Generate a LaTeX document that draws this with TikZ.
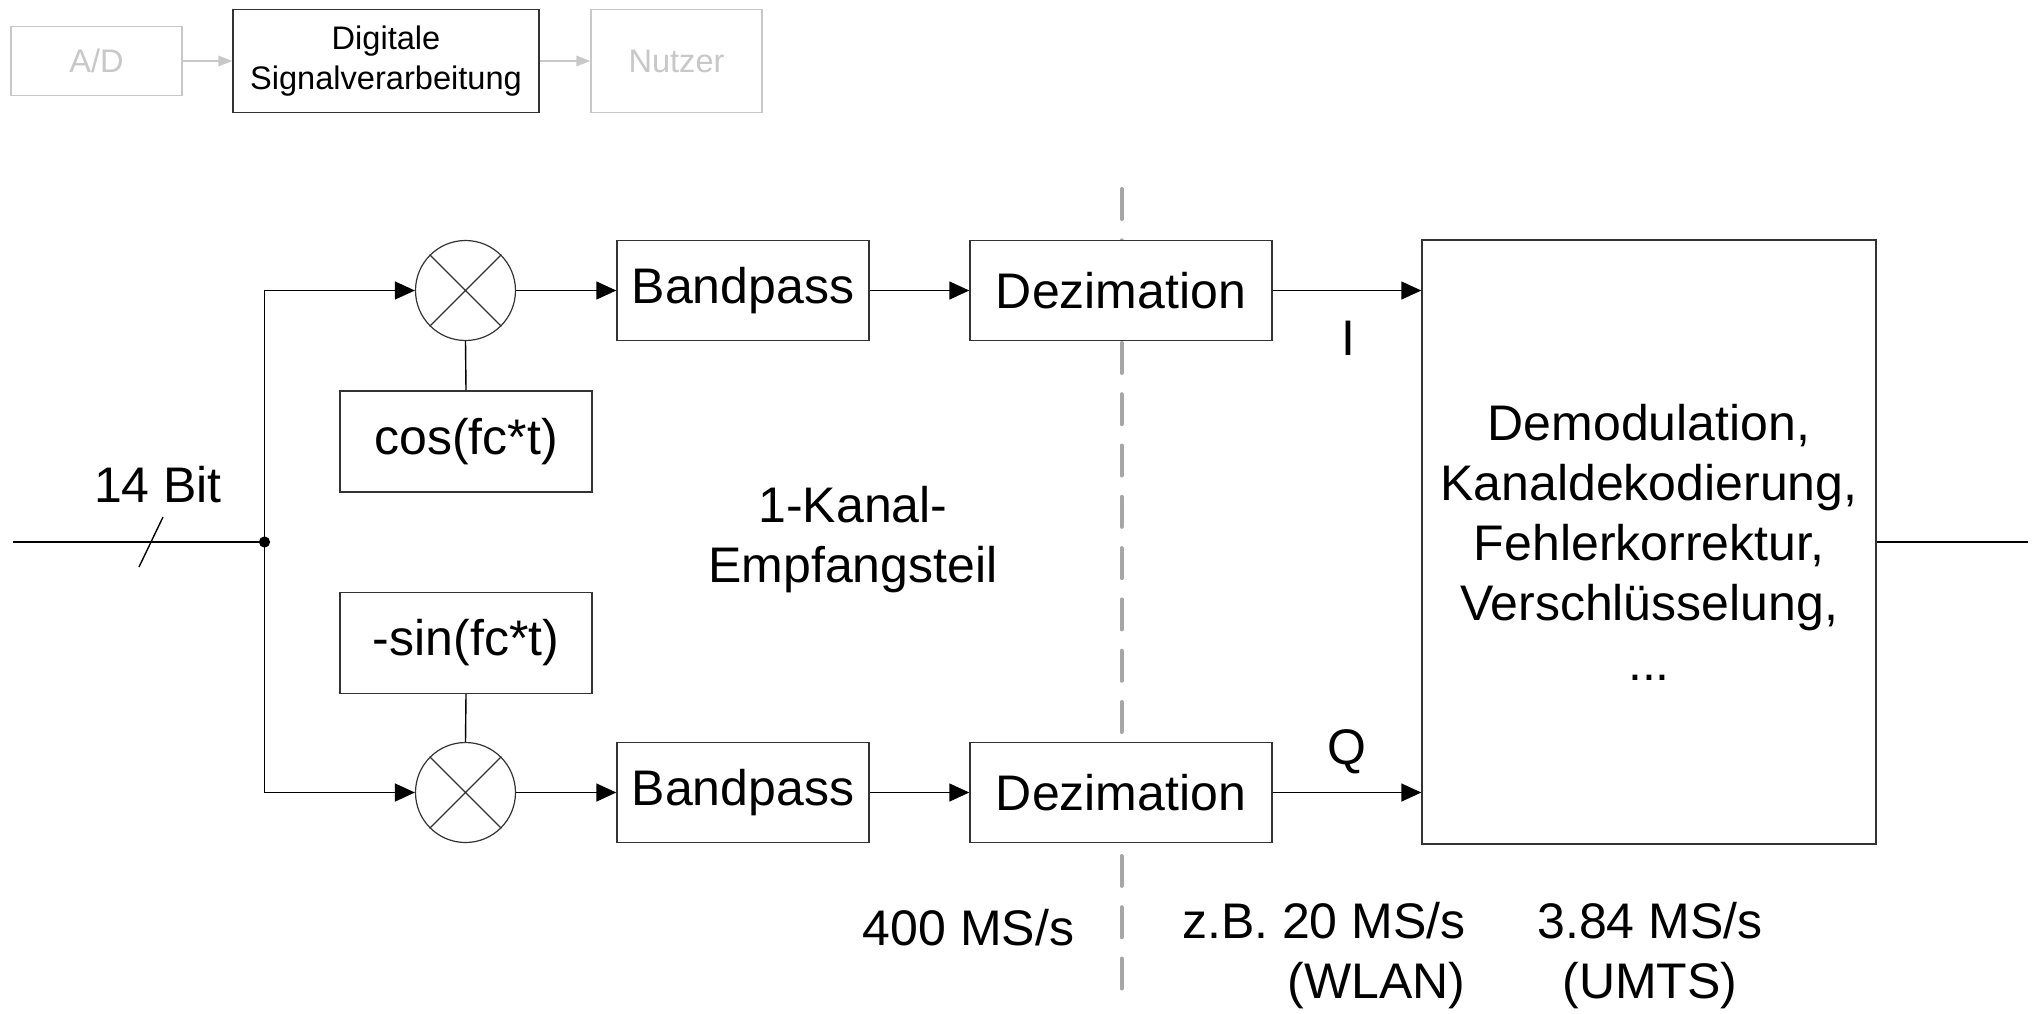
\documentclass[tikz,border=0pt]{standalone}
\usepackage{fontspec}
\setmainfont{Liberation Sans}
\usepackage{tikz}
\usepackage{xcolor}
\usetikzlibrary{calc,arrows.meta}
\definecolor{framecolorc}{HTML}{333333}
\definecolor{fadecolorc}{HTML}{C8C8C8}
\definecolor{splitcolorc}{HTML}{A6A6A6}
\colorlet{framecolor}{framecolorc}
\colorlet{fadecolor}{fadecolorc}
\colorlet{splitcolor}{splitcolorc}
\tikzstyle{blockbox} =[
    draw=framecolor,
    fill=white,
    line width=0.7pt,
    rectangle,
    inner sep=0pt,
    align=center,
    font=\fontsize{25}{30}\selectfont
    ]
\tikzstyle{fadebox} =[
    draw=fadecolor,
    fill=white,
    line width=0.7pt,
    rectangle,
    inner sep=0pt,
    align=center,
    text=fadecolor,
    font=\fontsize{16.3}{20}\selectfont
    ]
\tikzstyle{topbox} =[fadebox, draw=framecolor, text=black]
\tikzstyle{mixer} =[
    draw=framecolor,
    fill=white,
    line width=0.6pt,
    circle,
    minimum size=50pt,
    inner sep=0pt
    ]
\tikzstyle{wire} =[line width=0.7pt]
\tikzstyle{signal} =[wire, -{Triangle[length=10pt,width=9pt]}]
\tikzstyle{fadesignal} =[line width=0.7pt, fadecolor, -{Triangle[length=7pt,width=5.3pt]}]
\tikzstyle{plaintext} =[inner sep=0pt, align=center, font=\fontsize{25}{30}\selectfont]

\begin{document}
\begin{tikzpicture}[x=0.5pt,y=-0.5pt]
\useasboundingbox (0,0) rectangle (2033,1013);

\node[fadebox, minimum width=85.5pt, minimum height=34.5pt] (ad) at (96.5,61) {A/D};
\node[topbox, minimum width=153pt, minimum height=51.5pt] (dsp) at (386,61) {Digitale\\Signalverarbeitung};
\node[fadebox, minimum width=85.5pt, minimum height=51.5pt] (nutzer) at (676.5,61) {Nutzer};
\draw[fadesignal] (ad) -- (dsp);
\draw[fadesignal] (dsp) -- (nutzer);

\coordinate (splittop) at (1121.5,189);
\coordinate (splitbot) at (1121.5,990);
\draw[splitcolor, line width=2pt, line cap=round, dash pattern=on 15pt off 10.65pt] (splittop) -- (splitbot);

\coordinate (in) at (13,542);
\coordinate (split) at (264.5,542);
\coordinate (bus) at (151,542);
\coordinate (out) at (2028,542);

\node[mixer] (mixI) at (465.5,290.5) {};
\node[mixer] (mixQ) at (465.5,792.5) {};
\node[blockbox, minimum width=126pt, minimum height=50.5pt] (cosbox) at (466,441.5) {cos(fc*t)};
\node[blockbox, minimum width=126pt, minimum height=50.5pt] (sinbox) at (466,643) {-sin(fc*t)};
\node[blockbox, minimum width=126pt, minimum height=50pt] (bpI) at (743,290.5) {Bandpass};
\node[blockbox, minimum width=126pt, minimum height=50pt] (bpQ) at (743,792.5) {Bandpass};
\node[blockbox, minimum width=151pt, minimum height=50pt] (dezI) at (1121,290.5) {Dezimation};
\node[blockbox, minimum width=151pt, minimum height=50pt] (dezQ) at (1121,792.5) {Dezimation};
\node[blockbox, minimum width=227pt, minimum height=302pt] (demod) at (1649,542) {Demodulation,\\Kanaldekodierung,\\Fehlerkorrektur,\\Verschlüsselung,\\...};

\foreach \m in {mixI,mixQ}
    \draw[line width=0.6pt, framecolor] (\m.45) -- (\m.225) (\m.135) -- (\m.315);

\draw[wire] (in) -- (split);
\draw[wire] (bus) ++(-12,25) -- ++(24,-50);
\draw[signal] (split) |- (mixI.west);
\draw[signal] (split) |- (mixQ.west);
\fill (split) circle (2.8pt);
\draw[wire] (mixI.south) -- (cosbox.north);
\draw[wire] (sinbox.south) -- (mixQ.north);
\draw[signal] (mixI) -- (bpI);
\draw[signal] (mixQ) -- (bpQ);
\draw[signal] (bpI) -- (dezI);
\draw[signal] (bpQ) -- (dezQ);
\draw[signal] (dezI.east) -- (dezI.east -| demod.west);
\draw[signal] (dezQ.east) -- (dezQ.east -| demod.west);
\draw[wire] (demod.east) -- (out);

\node[plaintext] (bits) at (158,485) {14 Bit};
\node[plaintext] (ilabel) at (1348,338) {I};
\node[plaintext] (qlabel) at (1347,752) {Q};
\node[plaintext] (kanal) at (853,540) {1-Kanal-\\Empfangsteil};
\node[plaintext] (rateA) at (968.5,928) {400 MS/s};
\node[plaintext, align=right, anchor=east] (rateB) at (1466,956) {z.B. 20 MS/s\\(WLAN)};
\node[plaintext] (rateC) at (1650,956) {3.84 MS/s\\(UMTS)};
\end{tikzpicture}
\end{document}
